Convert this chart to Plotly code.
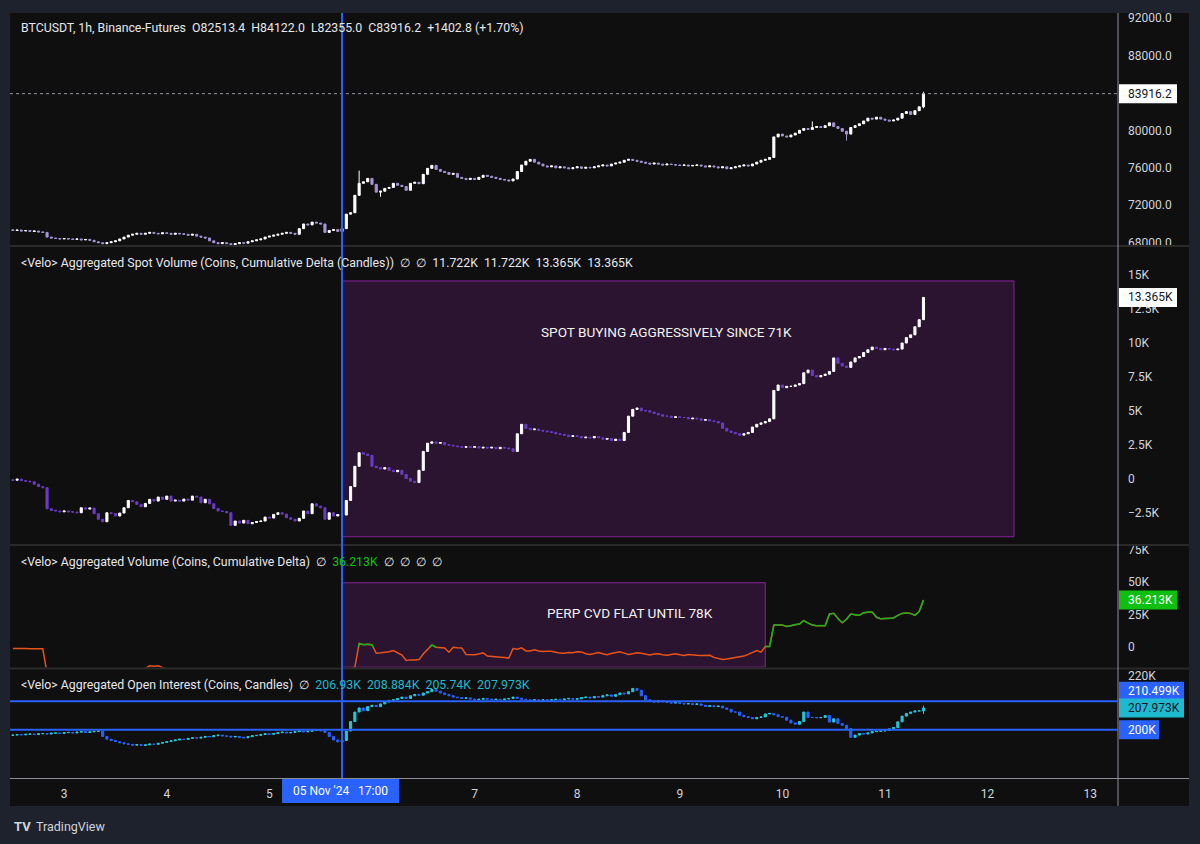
import plotly.graph_objects as go
import pandas as pd
import numpy as np

# ---------------- data (hourly, 2024-11-02 12:00 -> 2024-11-11 09:00) ----------------
start_time = "2024-11-02 12:00"
n_bars = 214
times = pd.date_range(start_time, periods=n_bars, freq="h")

price_close = [
    69300, 69350, 69250, 69300, 69200, 69250, 69150, 69100,
    68600,
    68500, 68450, 68400, 68450, 68400, 68350, 68400, 68300, 68350, 68250,
    68100, 68000, 67900, 68000, 68100, 68200,
    68400, 68600, 68800, 68900, 69000, 68900, 69000, 69100, 69000, 68950, 69050, 69000,
    68900, 69000, 68950, 68900, 68800, 68900, 68700, 68600, 68500, 68200, 68000, 67900,
    68000, 67900, 67800, 67900, 68000, 67950, 68100, 68200, 68300, 68400, 68600, 68700,
    68800, 68900, 69000, 69100, 69000, 68900,
    69500, 70000, 69900, 70200, 70100, 70000, 69100, 69300, 69400, 69200, 69500,
    71050, 71200, 73060, 74340, 74500, 74870, 74230, 73400, 73500, 73800, 73900, 74340,
    74130, 74000, 73600, 74340, 74450, 74300, 75300, 75940, 76260, 75830, 75620, 75500,
    75300, 75400, 74980, 74870, 74760, 74870, 74760, 74980, 75200, 75100, 74980, 74870, 74760,
    74700, 74600, 74800, 75600, 76300, 76700, 76900, 76600, 76400, 76200, 76100, 76200,
    76000, 76100, 76000, 75900, 76000, 76100, 75950, 76050, 76000, 76100, 76200, 76300,
    76200, 76400, 76500, 76600, 76800, 76900, 76800, 76700, 76600, 76500, 76400, 76500,
    76400, 76300, 76400, 76350, 76300, 76250, 76300, 76200, 76250, 76300, 76200, 76100,
    76200, 76100, 76000, 76100, 75900, 76000, 76100, 76200, 76300, 76200, 76400, 76600,
    76800, 76900, 77100,
    79300, 79600, 79400, 79300, 79500, 79700, 80000, 80200, 80100, 80300, 80400, 80300,
    80500, 80800, 80400, 80200, 79900, 79600, 80300, 80500, 80700, 81000, 81300, 81200,
    81400, 81200, 81100, 81000, 81100, 81300, 81800, 82000, 81700, 82100, 82513.4, 83916.2,
]
price_first_open = 69380
price_wick_high = {"2024-11-05 21:00": 75700, "2024-11-10 07:00": 80950, "2024-11-11 09:00": 84122.0}
price_wick_low = {"2024-11-06 02:00": 72900, "2024-11-10 15:00": 78900, "2024-11-11 09:00": 82355.0}

spot_cvd_k = [
    -0.13, -0.05, -0.16, -0.2, -0.24, -0.42, -0.6, -0.68,
    -2.24, -2.35, -2.4, -2.46, -2.4, -2.46, -2.48, -2.53, -2.16, -2.26, -2.18,
    -2.6, -3.01, -3.19, -2.53, -2.59, -2.77, -2.55, -2.16, -1.62, -1.72, -1.91, -2.09,
    -1.84, -1.54, -1.67, -1.37, -1.54, -1.30,
    -1.67, -1.6, -1.67, -1.52, -1.6, -1.30, -1.37, -1.79, -1.54, -1.87, -2.21, -2.40,
    -2.44, -2.53, -3.46, -3.14, -3.29, -3.09, -3.34, -3.25, -3.18, -3.14, -2.85, -2.92,
    -2.65, -2.53, -2.63, -2.9, -3.01, -3.14, -2.94, -2.40, -2.60, -1.87, -2.04, -2.16,
    -3.01, -2.53, -2.77, -2.66, -2.70, -1.62,
    -0.6, 0.9, 1.9, 1.8, 1.7, 0.9, 0.8, 0.7, 0.8, 0.6, 0.5, 0.6, 0.3, 0.0, -0.2, -0.3,
    0.6, 2.0, 2.6, 2.7, 2.6, 2.65, 2.5, 2.45, 2.4, 2.35, 2.3, 2.35, 2.3, 2.35, 2.25, 2.3,
    2.25, 2.3, 2.2, 2.3, 2.25, 2.2, 2.0, 3.3, 4.0, 3.7, 3.6, 3.65, 3.55, 3.5, 3.45, 3.4,
    3.3, 3.25, 3.2, 3.1, 3.15, 3.1, 3.0, 3.05, 3.0, 3.1, 3.0, 2.9, 2.95, 2.8, 2.9, 2.8,
    3.4, 4.6, 5.1, 5.2, 5.0, 5.0, 4.9, 4.8, 4.7, 4.6, 4.6, 4.5, 4.55, 4.5, 4.5, 4.4,
    4.45, 4.4, 4.3, 4.35, 4.25, 4.2, 4.1, 3.7, 3.5, 3.4, 3.3, 3.2, 3.3, 3.4, 3.8, 4.0,
    4.1, 4.2, 4.4, 6.5, 6.9, 6.7, 6.8, 6.8, 6.9, 7.0, 7.8, 8.0, 7.6, 7.5, 7.6, 7.7,
    7.9, 8.9, 8.5, 8.3, 8.2, 8.6, 8.9, 9.0, 9.3, 9.5, 9.7, 9.6, 9.5, 9.6, 9.55, 9.5,
    9.55, 10.0, 10.4, 10.6, 11.2, 11.722, 13.365,
]
spot_first_open_k = -0.10

perp_cvd_k = [
    -1.0, -0.9, -1.1, -1.0, -1.2, -1.1, -1.3, -1.2,
    -20, -21, -22, -21, -23, -24, -22, -21, -20, -22, -23, -25, -24, -22, -21, -20,
    -19, -18, -17, -18, -17, -16.5, -17,
    -16.2, -14.2, -14.6, -14.3, -16.0,
    -17, -18, -19, -18, -20, -21, -22, -21, -23, -24, -23, -22, -24, -25, -26, -25,
    -24, -23, -24, -25, -24, -23, -22, -23, -24, -23, -22, -21, -22, -21, -20, -21,
    -20, -19, -20, -21, -19, -18, -19, -20, -21, -19, -18, -17,
    -15.3, 3.0, 2.0, 2.3, 2.0, -4.6, -4.3, -3.9, -3.5, -2.5, -4.0, -6.0, -10.2, -9.7,
    -9.8, -9.5, -5.2, -1.8, 1.8, 0.0, -0.3, -0.5, -3.8, 0.0, -0.4, -0.5, -5.5, -5.7,
    -5.8, -5.2, -4.3, -6.8, -7.2, -7.3, -7.6, -7.8, -8.3, -1.0, -1.5, -0.5, -2.8, -2.8,
    -2.0, -2.8, -3.3, -3.0, -3.1, -3.8, -4.5, -4.6, -4.0, -4.2, -3.5, -3.6, -5.0, -5.5,
    -4.5, -4.0, -5.0, -5.8, -4.8, -4.2, -3.5, -4.5, -5.5, -5.0, -4.2, -4.6, -5.5, -6.0,
    -5.2, -5.0, -5.8, -6.2, -5.5, -5.0, -5.8, -6.3, -5.5, -6.0, -6.2, -6.3, -6.1, -6.2,
    -7.8, -8.6, -9.4, -9.0, -8.5, -8.0, -7.6, -6.8, -5.5, -4.0, -2.5, -3.8, 0.5, 0.5,
    17.0, 17.0, 17.0, 16.0, 16.5, 17.5, 17.8, 20.5, 18.5, 17.0, 16.5, 16.7, 16.5, 25.5,
    26.0, 22.0, 18.8, 21.5, 25.5, 25.0, 24.5, 26.5, 27.0, 27.0, 23.0, 21.8, 22.0, 22.0,
    22.5, 24.5, 26.0, 26.2, 26.0, 24.5, 27.5, 36.213,
]

oi_k = [
    198.0, 198.2, 198.1, 198.3, 198.4, 198.2, 198.5, 198.6, 198.4, 198.7, 198.8, 198.6,
    198.9, 199.0, 198.8, 199.1, 199.3, 199.0, 199.2, 199.4, 199.5,
    197.5, 196.5, 196.0, 195.6,
    195.2, 194.8, 194.6, 194.3, 194.5, 194.2, 194.4, 194.7, 194.6, 195.0, 195.3, 195.6,
    195.9, 196.2, 196.5, 196.4, 196.8, 197.0, 196.9, 197.2, 197.5, 197.4, 197.8, 198.0,
    197.7, 197.6, 197.3, 197.5, 197.2, 197.0, 197.4, 197.8, 197.9,
    198.2, 198.5, 198.3, 198.6, 198.9, 199.1, 198.8, 199.0, 199.3, 199.5, 199.2, 199.4,
    199.7, 199.9, 199.6, 199.0,
    197.5, 196.2, 195.5, 196.0,
    199.5, 203.0, 206.5, 208.0, 207.0, 208.5, 209.0, 208.5, 209.5, 210.2, 210.8, 211.0,
    211.5, 212.0, 211.5, 212.5, 213.0, 212.7, 213.5, 214.0, 214.8, 214.2, 213.5, 213.0,
    212.5, 212.0, 211.8, 211.5, 211.7, 211.3, 211.0, 211.2, 211.5, 211.3, 211.0, 211.2,
    211.0, 211.3, 211.5, 212.0, 211.6, 211.2, 211.0, 210.8, 211.0, 210.7, 211.0, 210.8,
    211.0, 211.2, 211.0, 211.3, 211.5, 211.2, 211.4, 211.8, 212.0, 211.7, 212.2, 212.0,
    212.5, 212.8, 212.3, 212.9, 213.5, 213.2, 214.0, 215.2, 214.5, 212.5, 211.0, 210.5,
    210.2, 210.6, 210.3, 210.0, 209.8, 210.0, 209.7, 209.5, 209.6, 209.3, 209.5, 209.0,
    208.6, 208.8, 208.5, 208.7, 208.0, 207.5, 206.5, 206.5, 205.3, 204.8, 204.5, 204.0,
    204.5, 204.7, 205.8, 206.0, 205.5, 204.8, 204.6, 203.5, 202.5, 202.0, 203.0, 206.5,
    204.5, 204.5, 204.4, 204.5, 205.2, 202.8, 204.0, 202.3, 201.6, 200.4, 197.2, 198.0,
    198.6, 198.4, 198.8, 199.3, 199.4, 199.5, 199.7, 200.3, 200.8, 202.9, 205.0, 206.0,
    206.5, 206.9, 206.93, 207.973,
]
oi_first_open_k = 197.9
oi_wick_high_k = {"2024-11-11 09:00": 208.884}
oi_wick_low_k = {"2024-11-11 09:00": 205.74}

price_tick_vals = [68000, 72000, 76000, 80000, 84000, 88000, 92000]
spot_tick_vals_k = [-2.5, 0, 2.5, 5, 7.5, 10, 12.5, 15]
perp_tick_vals_k = [0, 25, 50, 75]
oi_tick_vals_k = [200, 220]
oi_levels_k = [210.499, 200.0]
day_ticks = [3, 4, 5, 7, 8, 9, 10, 11, 12, 13]
marker_time = "2024-11-05 17:00"
spot_box = dict(t0=marker_time, t1="2024-11-12 06:10", v0=-4.3, v1=14.58,
                text="SPOT BUYING AGGRESSIVELY SINCE 71K", tt="2024-11-08 21:00", tv=10.83)
perp_box = dict(t0=marker_time, t1="2024-11-09 20:00", v0=-15.3, v1=49.5,
                text="PERP CVD FLAT UNTIL 78K", tt="2024-11-08 12:20", tv=26.5)

assert len(price_close) == n_bars and len(spot_cvd_k) == n_bars
assert len(perp_cvd_k) == n_bars and len(oi_k) == n_bars


def build_ohlc(closes, first_open, hi_over=None, lo_over=None):
    opens = [first_open] + list(closes[:-1])
    highs = [max(o, c) for o, c in zip(opens, closes)]
    lows = [min(o, c) for o, c in zip(opens, closes)]
    keys = [t.strftime("%Y-%m-%d %H:%M") for t in times]
    for k, v in (hi_over or {}).items():
        highs[keys.index(k)] = v
    for k, v in (lo_over or {}).items():
        lows[keys.index(k)] = v
    return opens, highs, lows, list(closes)


def kfmt(v):
    s = f"{v:g}K" if v != 0 else "0"
    return s.replace("-", "\u2212")


p_o, p_h, p_l, p_c = build_ohlc(price_close, price_first_open, price_wick_high, price_wick_low)
s_o, s_h, s_l, s_c = build_ohlc([v * 1000 for v in spot_cvd_k], spot_first_open_k * 1000)
o_o, o_h, o_l, o_c = build_ohlc([v * 1000 for v in oi_k], oi_first_open_k * 1000,
                                {k: v * 1000 for k, v in oi_wick_high_k.items()},
                                {k: v * 1000 for k, v in oi_wick_low_k.items()})
perp = np.array(perp_cvd_k) * 1000

# ---------------- geometry helpers (pixel -> paper) ----------------
W, H = 1200, 844
ML, MR, MT, MB = 10, 82, 10, 66
PW, PH = W - ML - MR, H - MT - MB


def py(Y):
    return (H - MB - Y) / PH


def px(X):
    return (X - ML) / PW


FONT = "Roboto"
TXT = "#d1d4dc"
BG = "#0f0f0f"
OUT = "#1e222d"
BLUE = "#2962ff"

fig = go.Figure()

fig.add_trace(go.Candlestick(
    x=times, open=p_o, high=p_h, low=p_l, close=p_c, xaxis="x", yaxis="y",
    increasing=dict(line=dict(color="#ffffff", width=1), fillcolor="#ffffff"),
    decreasing=dict(line=dict(color="#a594d6", width=1), fillcolor="#a594d6"),
    whiskerwidth=0, hoverinfo="skip"))

fig.add_trace(go.Candlestick(
    x=times, open=s_o, high=s_h, low=s_l, close=s_c, xaxis="x", yaxis="y2",
    increasing=dict(line=dict(color="#ffffff", width=1), fillcolor="#ffffff"),
    decreasing=dict(line=dict(color="#6a3bc4", width=1), fillcolor="#6a3bc4"),
    whiskerwidth=0, hoverinfo="skip"))

# perp CVD line: orange below zero, green above
fig.add_trace(go.Scatter(x=times, y=perp, mode="lines", xaxis="x", yaxis="y3",
                         line=dict(color="#e8531a", width=1.5), hoverinfo="skip"))
gx, gy = [], []
for i in range(len(perp) - 1):
    v0, v1 = perp[i], perp[i + 1]
    t0, t1 = times[i], times[i + 1]
    if v0 >= 0 and v1 >= 0:
        gx += [t0, t1, None]; gy += [v0, v1, None]
    elif v0 >= 0 > v1 or v0 < 0 <= v1:
        f = v0 / (v0 - v1)
        tc = t0 + (t1 - t0) * f
        if v0 >= 0:
            gx += [t0, tc, None]; gy += [v0, 0, None]
        else:
            gx += [tc, t1, None]; gy += [0, v1, None]
fig.add_trace(go.Scatter(x=gx, y=gy, mode="lines", xaxis="x", yaxis="y3",
                         line=dict(color="#17b317", width=1.5), hoverinfo="skip",
                         connectgaps=False))

fig.add_trace(go.Candlestick(
    x=times, open=o_o, high=o_h, low=o_l, close=o_c, xaxis="x", yaxis="y4",
    increasing=dict(line=dict(color="#26c6da", width=1), fillcolor="#26c6da"),
    decreasing=dict(line=dict(color=BLUE, width=1), fillcolor=BLUE),
    whiskerwidth=0, hoverinfo="skip"))

# ---------------- axes ----------------
tickfont = dict(family=FONT, size=12, color=TXT)
yax = dict(side="right", anchor="x", showgrid=False, zeroline=False, showline=False,
           ticks="", tickfont=tickfont, ticklabelstandoff=9, fixedrange=True)

x_start = pd.Timestamp("2024-11-02 11:20")
x_end = pd.Timestamp("2024-11-13 06:30")
day_dates = [pd.Timestamp(2024, 11, d) for d in day_ticks]

fig.update_layout(
    width=W, height=H, margin=dict(l=ML, r=MR, t=MT, b=MB),
    paper_bgcolor=OUT, plot_bgcolor="rgba(0,0,0,0)", showlegend=False,
    font=dict(family=FONT, color=TXT),
    xaxis=dict(type="date", range=[x_start, x_end], domain=[0, 1], anchor="y4",
               showgrid=False, zeroline=False, showline=False, ticks="",
               tickvals=day_dates, ticktext=[str(d) for d in day_ticks],
               tickfont=tickfont, ticklabelstandoff=7, rangeslider=dict(visible=False),
               fixedrange=True),
    yaxis=dict(domain=[py(243), 1.0], range=[67745, 92532], tickvals=price_tick_vals,
               ticktext=[f"{v:.1f}" for v in price_tick_vals], **yax),
    yaxis2=dict(domain=[py(543), py(245)], range=[-4830, 17080],
                tickvals=[v * 1000 for v in spot_tick_vals_k],
                ticktext=[kfmt(v) for v in spot_tick_vals_k], **yax),
    yaxis3=dict(domain=[py(667), py(545)], range=[-15500, 77800],
                tickvals=[v * 1000 for v in perp_tick_vals_k],
                ticktext=[kfmt(v) for v in perp_tick_vals_k], **yax),
    yaxis4=dict(domain=[0, py(669)], range=[182200, 222200],
                tickvals=[v * 1000 for v in oi_tick_vals_k],
                ticktext=[kfmt(v) for v in oi_tick_vals_k], **yax),
)

shapes = []
# chart background frame
shapes.append(dict(type="rect", xref="paper", yref="paper", x0=px(10), x1=px(1189),
                   y0=py(806), y1=py(10), fillcolor=BG, line=dict(width=0), layer="below"))
# pane separators
for Y in (244, 544, 668):
    shapes.append(dict(type="line", xref="paper", yref="paper", x0=px(10), x1=px(1189),
                       y0=py(Y), y1=py(Y), line=dict(color="#2a2a2a", width=2), layer="above"))
# right axis border and time axis top border
shapes.append(dict(type="line", xref="paper", yref="paper", x0=1, x1=1, y0=py(806), y1=py(10),
                   line=dict(color="#8d9099", width=1), layer="above"))
shapes.append(dict(type="line", xref="paper", yref="paper", x0=px(10), x1=px(1189),
                   y0=py(778.5), y1=py(778.5), line=dict(color="#8d9099", width=1), layer="above"))
# annotation boxes
for box, yref in ((spot_box, "y2"), (perp_box, "y3")):
    shapes.append(dict(type="rect", xref="x", yref=yref, x0=box["t0"], x1=box["t1"],
                       y0=box["v0"] * 1000, y1=box["v1"] * 1000,
                       fillcolor="rgba(156,39,176,0.2)",
                       line=dict(color="rgba(156,39,176,0.85)", width=1), layer="below"))
# last price dotted line
shapes.append(dict(type="line", xref="paper", yref="y", x0=0, x1=1, y0=p_c[-1], y1=p_c[-1],
                   line=dict(color="#9598a1", width=1, dash="dot"), layer="above"))
# OI horizontal levels
for lv in oi_levels_k:
    shapes.append(dict(type="line", xref="paper", yref="y4", x0=0, x1=1, y0=lv * 1000,
                       y1=lv * 1000, line=dict(color=BLUE, width=2), layer="above"))
# vertical marker
shapes.append(dict(type="line", xref="x", yref="paper", x0=marker_time, x1=marker_time,
                   y0=0, y1=1, line=dict(color=BLUE, width=2), layer="above"))
# time label box
shapes.append(dict(type="rect", xref="x", yref="paper", xsizemode="pixel", xanchor=marker_time,
                   x0=-60, x1=57, y0=py(803), y1=py(779), fillcolor=BLUE,
                   line=dict(width=0), layer="above"))


def axis_label(yref, value, text, bg, fg, w=58, dy=0):
    shapes.append(dict(type="rect", xref="paper", yref=yref, xsizemode="pixel", xanchor=1,
                       ysizemode="pixel", yanchor=value, x0=1, x1=1 + w,
                       y0=-9.5 + dy, y1=9.5 + dy, fillcolor=bg, line=dict(width=0),
                       layer="above"))
    annotations.append(dict(xref="paper", yref=yref, x=1, y=value, xanchor="left",
                            yanchor="middle", xshift=8, yshift=dy, text=text, showarrow=False,
                            font=dict(family=FONT, size=12, color=fg)))


annotations = []
axis_label("y", p_c[-1], f"{p_c[-1]:.1f}", "#ffffff", "#131722")
axis_label("y2", s_c[-1], f"{s_c[-1] / 1000:.3f}K", "#ffffff", "#131722")
axis_label("y3", perp[-1], f"{perp[-1] / 1000:.3f}K", "#0fbf0f", "#ffffff")
axis_label("y4", oi_levels_k[0] * 1000, f"{oi_levels_k[0]:.3f}K", BLUE, "#ffffff", w=65, dy=10)
axis_label("y4", o_c[-1], f"{o_c[-1] / 1000:.3f}K", "#1fb8cf", "#131722", w=65)
axis_label("y4", oi_levels_k[1] * 1000, f"{oi_levels_k[1]:g}K", BLUE, "#ffffff", w=40)

S = "\u00a0\u00a0"
hdr_font = dict(family=FONT, size=12.3, color="#e6e8ee")
pchg = p_c[-1] - p_c[-2]
headers = [
    (25.5, f"BTCUSDT, 1h, Binance-Futures{S}O{p_o[-1]:.1f}{S}H{p_h[-1]:.1f}{S}L{p_l[-1]:.1f}"
           f"{S}C{p_c[-1]:.1f}{S}+{pchg:.1f} (+{pchg / p_c[-2] * 100:.2f}%)"),
    (260.5, f"&lt;Velo&gt; Aggregated Spot Volume (Coins, Cumulative Delta (Candles)){S}\u2205{S}\u2205"
            f"{S}{s_o[-1] / 1000:.3f}K{S}{s_l[-1] / 1000:.3f}K{S}{s_c[-1] / 1000:.3f}K{S}{s_h[-1] / 1000:.3f}K"),
    (561, f"&lt;Velo&gt; Aggregated Volume (Coins, Cumulative Delta){S}\u2205{S}"
          f"<span style='color:#10c010'>{perp[-1] / 1000:.3f}K</span>{S}\u2205{S}\u2205{S}\u2205{S}\u2205"),
    (685, f"&lt;Velo&gt; Aggregated Open Interest (Coins, Candles){S}\u2205{S}"
          f"<span style='color:#22b8cc'>{o_o[-1] / 1000:.2f}K{S}{o_h[-1] / 1000:.3f}K{S}"
          f"{o_l[-1] / 1000:.2f}K{S}{o_c[-1] / 1000:.3f}K</span>"),
]
for Y, t in headers:
    annotations.append(dict(xref="paper", yref="paper", x=px(19), y=py(Y), xanchor="left",
                            yanchor="middle", text=t, showarrow=False, font=hdr_font))

for box, yref in ((spot_box, "y2"), (perp_box, "y3")):
    annotations.append(dict(xref="x", yref=yref, x=box["tt"], y=box["tv"] * 1000,
                            xanchor="center", yanchor="middle",
                            text=box["text"], showarrow=False,
                            font=dict(family=FONT, size=13.6, color="#f2f2f2")))

annotations.append(dict(xref="x", yref="paper", x=marker_time, y=py(791), xshift=-1.5,
                        xanchor="center", yanchor="middle",
                        text="05 Nov '24\u00a0\u00a0\u00a017:00", showarrow=False,
                        font=dict(family=FONT, size=12, color="#ffffff")))
annotations.append(dict(xref="paper", yref="paper", x=px(12), y=py(827), xanchor="left",
                        yanchor="middle", text="<b>TV</b>", showarrow=False,
                        font=dict(family=FONT, size=13, color="#d1d4dc")))
annotations.append(dict(xref="paper", yref="paper", x=px(34), y=py(827), xanchor="left",
                        yanchor="middle", text="TradingView", showarrow=False,
                        font=dict(family=FONT, size=12.5, color="#d1d4dc")))

fig.update_layout(shapes=shapes, annotations=annotations)
fig.write_html("out.html")
